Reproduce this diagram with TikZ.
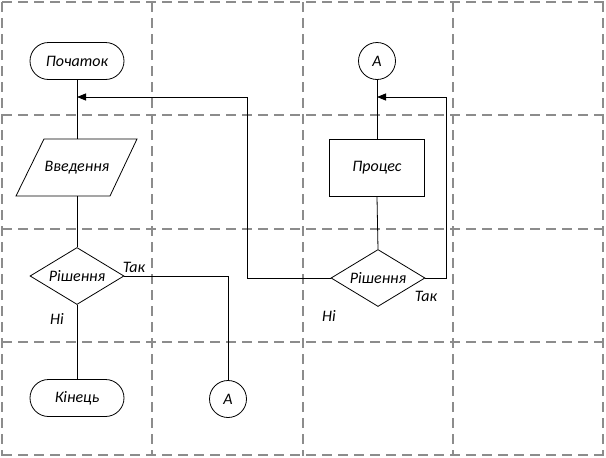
\documentclass[tikz,border=0pt]{standalone}
\usepackage{fontspec}
\setmainfont{Carlito}
\usetikzlibrary{shapes.geometric,shapes.misc,arrows.meta}
\begin{document}
\begin{tikzpicture}[x=1pt,y=-1pt,
  font=\fontsize{16}{18}\selectfont\itshape,
  gridline/.style={draw=black!45, line width=1.1pt, dash pattern=on 10pt off 6pt},
  conn/.style={draw=black, line width=0.8pt},
  arr/.style={conn, -{Triangle[length=9pt,width=7pt]}},
  term/.style={draw, line width=0.8pt, rounded rectangle, minimum width=94pt, minimum height=37pt, inner sep=0pt},
  proc/.style={draw, line width=0.8pt, rectangle, minimum width=95pt, minimum height=57pt, inner sep=0pt},
  dec/.style={draw, line width=0.8pt, diamond, aspect=1.65, minimum width=94pt, minimum height=57pt, inner sep=0pt},
  conn circ/.style={draw, line width=0.8pt, circle, minimum size=37pt, inner sep=0pt},
  lbl/.style={inner sep=0pt}
]
\useasboundingbox (0,0) rectangle (606,458);
% grid
\foreach \x in {2,152,303,453,603} \draw[gridline] (\x,2) -- (\x,456);
\foreach \y in {2,115,229,342,455} \draw[gridline] (2,\y) -- (604,\y);

% left column
\node[term] (start) at (77,61) {Початок};
\node[lbl] (inp) at (77,168) {Введення};
\draw[line width=0.8pt] (44,139) -- (137,139) -- (110,196) -- (16,196) -- cycle;
\coordinate (inpT) at (77,139);
\coordinate (inpB) at (77,196);
\node[dec] (d1) at (77,276) {Рішення};
\node[term] (end) at (77,398) {Кінець};
\node[conn circ] (a1) at (228,399) {A};
\node[lbl] (yes1) at (134,267) {Так};
\node[lbl] (no1) at (57,319) {Ні};

% right column
\node[conn circ] (a2) at (377,61) {A};
\node[proc] (pr) at (377,168) {Процес};
\node[dec] (d2) at (378,278) {Рішення};
\node[lbl] (yes2) at (426,296) {Так};
\node[lbl] (no2) at (329,316) {Ні};

\coordinate (j1) at (77,97);
\coordinate (j2) at (377,97);

% connectors
\draw[conn] (start.south) -- (inpT);
\draw[conn] (inpB) -- (d1.north);
\draw[conn] (d1.south) -- (end.north);
\draw[conn] (d1.east) -| (a1.north);
\draw[conn] (a2.south) -- (pr.north);
\draw[conn] (pr.south) -- (d2.north);
\draw[arr] (d2.east) -- (446,278) -- (446,97) -- (j2);
\draw[arr] (d2.west) -- (247,278) -- (247,97) -- (j1);
\end{tikzpicture}
\end{document}
